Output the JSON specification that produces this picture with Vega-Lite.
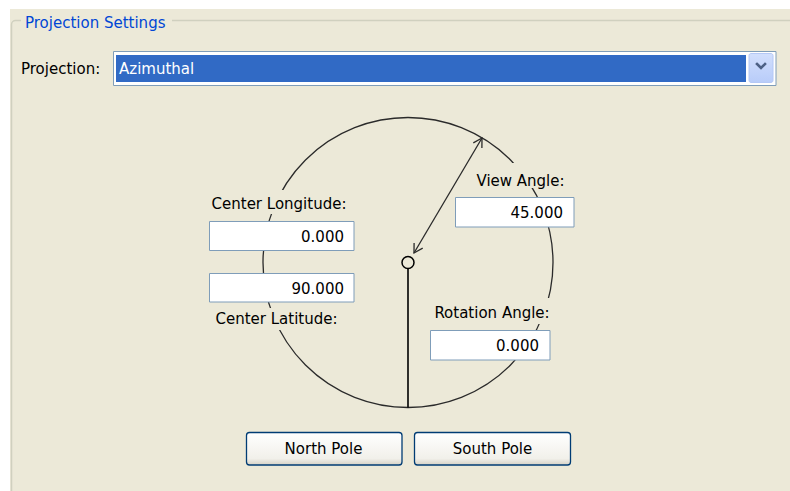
{
  "$schema": "https://vega.github.io/schema/vega-lite/v6.json",
  "width": 790,
  "height": 491,
  "autosize": {"type": "none"},
  "padding": 0,
  "background": "#FFFFFF",
  "config": {
    "view": {"stroke": null},
    "text": {"font": "DejaVu Sans", "fontSize": 15, "baseline": "alphabetic"}
  },
  "encoding": {
    "x": {"field": "x", "type": "quantitative", "scale": {"domain": [0, 790], "range": [0, 790], "nice": false, "zero": false}, "axis": null},
    "y": {"field": "y", "type": "quantitative", "scale": {"domain": [0, 491], "range": [0, 491], "nice": false, "zero": false}, "axis": null}
  },
  "layer": [
    {
      "data": {"values": [{"x": 10, "y": 9, "x2": 790, "y2": 491}]},
      "mark": {"type": "rect", "fill": "#ECE9D8"},
      "encoding": {"x2": {"field": "x2"}, "y2": {"field": "y2"}}
    },
    {
      "data": {"values": [{"x": 11.5, "y": 20.5, "x2": 800, "y2": 500}]},
      "mark": {"type": "rect", "filled": false, "fill": null, "stroke": "#D0D0BF", "strokeWidth": 1.5, "cornerRadius": 4},
      "encoding": {"x2": {"field": "x2"}, "y2": {"field": "y2"}}
    },
    {
      "data": {"values": [{"x": 21, "y": 10, "x2": 172, "y2": 31}]},
      "mark": {"type": "rect", "fill": "#ECE9D8"},
      "encoding": {"x2": {"field": "x2"}, "y2": {"field": "y2"}}
    },
    {
      "data": {"values": [{"x": 25, "y": 28, "t": "Projection Settings"}]},
      "mark": {"type": "text", "align": "left", "fill": "#0046D5"},
      "encoding": {"text": {"field": "t"}}
    },
    {
      "data": {"values": [{"x": 21, "y": 74, "t": "Projection:"}]},
      "mark": {"type": "text", "align": "left", "fill": "#000000"},
      "encoding": {"text": {"field": "t"}}
    },
    {
      "data": {"values": [{"x": 113.5, "y": 51.5, "x2": 776, "y2": 85.5}]},
      "mark": {"type": "rect", "fill": "#FFFFFF", "stroke": "#7F9DB9", "strokeWidth": 1},
      "encoding": {"x2": {"field": "x2"}, "y2": {"field": "y2"}}
    },
    {
      "data": {"values": [{"x": 116, "y": 55, "x2": 746, "y2": 82}]},
      "mark": {"type": "rect", "fill": "#316AC5"},
      "encoding": {"x2": {"field": "x2"}, "y2": {"field": "y2"}}
    },
    {
      "data": {"values": [{"x": 749, "y": 53.5, "x2": 773, "y2": 82.5}]},
      "mark": {"type": "rect", "stroke": "#B4C8F6", "strokeWidth": 1, "cornerRadius": 2,
        "fill": {"gradient": "linear", "x1": 0, "y1": 0, "x2": 0, "y2": 1, "stops": [{"offset": 0, "color": "#D2DFFD"}, {"offset": 1, "color": "#B8CCF9"}]}},
      "encoding": {"x2": {"field": "x2"}, "y2": {"field": "y2"}}
    },
    {
      "data": {"values": [{"x": 757, "y": 64, "o": 0}, {"x": 761, "y": 68, "o": 1}, {"x": 765, "y": 64, "o": 2}]},
      "mark": {"type": "line", "stroke": "#4D6185", "strokeWidth": 2.6, "strokeCap": "square"},
      "encoding": {"order": {"field": "o"}}
    },
    {
      "data": {"values": [{"x": 119, "y": 74, "t": "Azimuthal"}]},
      "mark": {"type": "text", "align": "left", "fill": "#FFFFFF"},
      "encoding": {"text": {"field": "t"}}
    },
    {
      "data": {"values": [{"x": 408, "y": 262.5}]},
      "mark": {"type": "point", "shape": "circle", "size": 84100, "filled": false, "stroke": "#2A2A2A", "strokeWidth": 1.3, "opacity": 1}
    },
    {
      "data": {"values": [
        {"x": 206, "y": 190, "x2": 353, "y2": 214},
        {"x": 212, "y": 308, "x2": 341, "y2": 330},
        {"x": 473, "y": 163, "x2": 568, "y2": 188},
        {"x": 429, "y": 298, "x2": 555, "y2": 324}
      ]},
      "mark": {"type": "rect", "fill": "#ECE9D8"},
      "encoding": {"x2": {"field": "x2"}, "y2": {"field": "y2"}}
    },
    {
      "data": {"values": [
        {"x": 279, "y": 209, "t": "Center Longitude:"},
        {"x": 276.5, "y": 324, "t": "Center Latitude:"},
        {"x": 520.5, "y": 186, "t": "View Angle:"},
        {"x": 492, "y": 318, "t": "Rotation Angle:"}
      ]},
      "mark": {"type": "text", "align": "center", "fill": "#000000"},
      "encoding": {"text": {"field": "t"}}
    },
    {
      "data": {"values": [
        {"x": 209.5, "y": 221.5, "x2": 354, "y2": 250.5},
        {"x": 209.5, "y": 273.5, "x2": 354, "y2": 302},
        {"x": 455.5, "y": 197.5, "x2": 574, "y2": 227},
        {"x": 430.5, "y": 330.5, "x2": 550, "y2": 360}
      ]},
      "mark": {"type": "rect", "fill": "#FFFFFF", "stroke": "#7F9DB9", "strokeWidth": 1},
      "encoding": {"x2": {"field": "x2"}, "y2": {"field": "y2"}}
    },
    {
      "data": {"values": [
        {"x": 344, "y": 242, "t": "0.000"},
        {"x": 344, "y": 294, "t": "90.000"},
        {"x": 563, "y": 218, "t": "45.000"},
        {"x": 539, "y": 351, "t": "0.000"}
      ]},
      "mark": {"type": "text", "align": "right", "fill": "#000000"},
      "encoding": {"text": {"field": "t"}}
    },
    {
      "data": {"values": [
        {"x": 414, "y": 253, "s": "shaft", "o": 0},
        {"x": 482, "y": 138, "s": "shaft", "o": 1},
        {"x": 473.3, "y": 142.9, "s": "head1", "o": 0},
        {"x": 482, "y": 138, "s": "head1", "o": 1},
        {"x": 481.9, "y": 148, "s": "head1", "o": 2},
        {"x": 422.7, "y": 248.1, "s": "head2", "o": 0},
        {"x": 414, "y": 253, "s": "head2", "o": 1},
        {"x": 414.1, "y": 243, "s": "head2", "o": 2}
      ]},
      "mark": {"type": "line", "stroke": "#2A2A2A", "strokeWidth": 1.3},
      "encoding": {"detail": {"field": "s"}, "order": {"field": "o"}}
    },
    {
      "data": {"values": [{"x": 408, "y": 268.5, "y2": 407.5}]},
      "mark": {"type": "rule", "stroke": "#000000", "strokeWidth": 1.6},
      "encoding": {"y2": {"field": "y2"}}
    },
    {
      "data": {"values": [{"x": 408, "y": 262.5}]},
      "mark": {"type": "point", "shape": "circle", "size": 144, "filled": true, "fill": "#ECE9D8", "stroke": "#000000", "strokeWidth": 1.5, "opacity": 1}
    },
    {
      "data": {"values": [
        {"x": 246.5, "y": 432.5, "x2": 402, "y2": 465},
        {"x": 414.5, "y": 432.5, "x2": 570.5, "y2": 465}
      ]},
      "mark": {"type": "rect", "stroke": "#003C74", "strokeWidth": 1.3, "cornerRadius": 3,
        "fill": {"gradient": "linear", "x1": 0, "y1": 0, "x2": 0, "y2": 1, "stops": [{"offset": 0, "color": "#FFFFFF"}, {"offset": 0.8, "color": "#F1F0EA"}, {"offset": 1, "color": "#D6D2C6"}]}},
      "encoding": {"x2": {"field": "x2"}, "y2": {"field": "y2"}}
    },
    {
      "data": {"values": [
        {"x": 323.5, "y": 454, "t": "North Pole"},
        {"x": 492.5, "y": 454, "t": "South Pole"}
      ]},
      "mark": {"type": "text", "align": "center", "fill": "#000000"},
      "encoding": {"text": {"field": "t"}}
    }
  ]
}
